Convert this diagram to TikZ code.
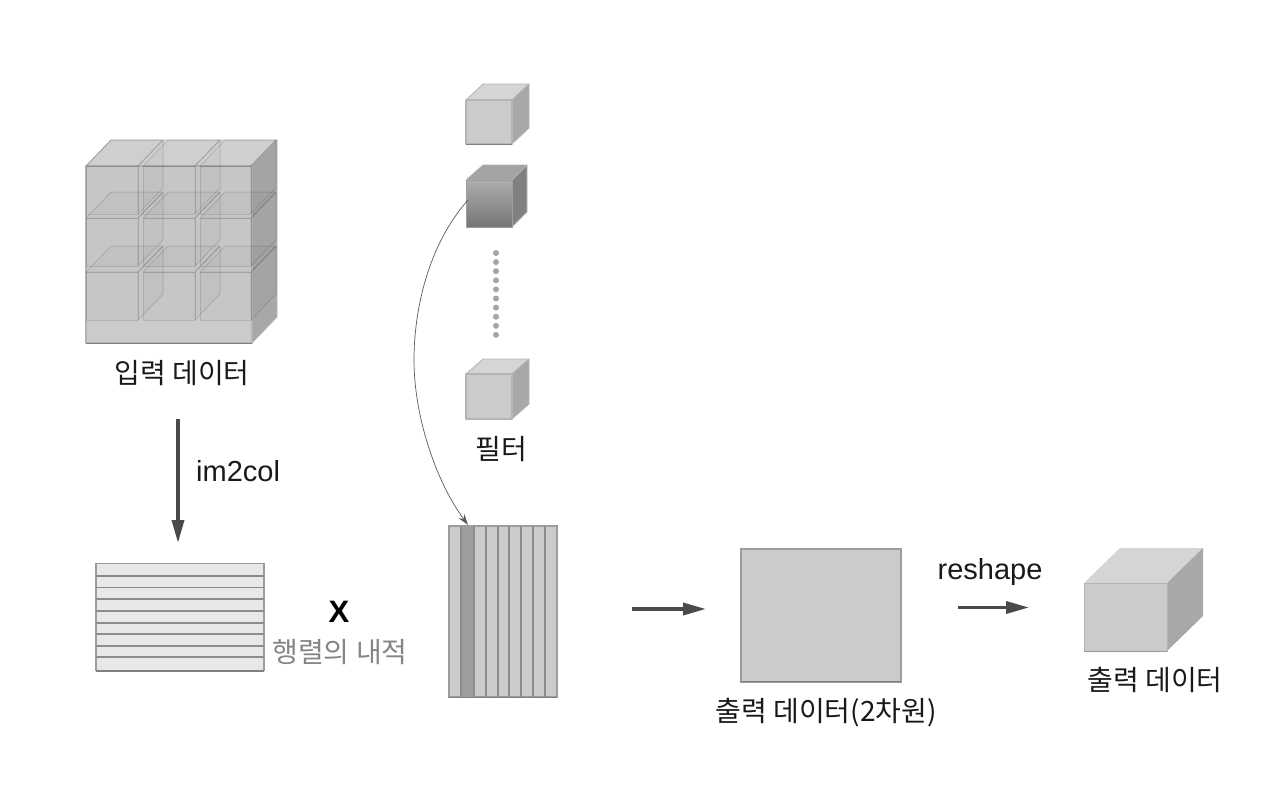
\documentclass[tikz,border=0pt]{standalone}
\usepackage{fontspec}
\setmainfont{Liberation Sans}
\newfontfamily\krfont{Noto Sans CJK KR}
\usetikzlibrary{arrows.meta,calc}
\definecolor{edgec}{HTML}{9C9C9C}
\definecolor{softedge}{HTML}{B4B4B4}
\definecolor{frontc}{HTML}{CBCBCB}
\definecolor{topc}{HTML}{D5D5D5}
\definecolor{sidec}{HTML}{A8A8A8}
\definecolor{arrowc}{HTML}{4A4A4A}
\tikzset{
  frontface/.style={fill=frontc,draw=softedge,line width=1.2pt,line join=round},
  topface/.style={fill=topc,draw=softedge,line width=.8pt,line join=round},
  sideface/.style={fill=sidec,draw=softedge,line width=.8pt,line join=round},
  glass/.style={fill=black,fill opacity=.025,draw=black,draw opacity=.11,line width=1pt,line join=round},
  flow/.style={draw=arrowc,line width=3.4pt,-{Triangle[length=23pt,width=12pt]}},
  thinflow/.style={draw=black!65,line width=.7pt,-{Stealth[length=11pt,width=7pt]}},
  lbl/.style={font=\krfont\fontsize{28}{30}\selectfont,text=black!90,inner sep=0pt},
  latin/.style={font=\fontsize{29}{32}\selectfont,text=black!90,inner sep=0pt},
  matrixbox/.style={draw=edgec,line width=1.5pt,inner sep=0pt},
  shadowline/.style={draw=black!50,line width=1.6pt},
  rule/.style={draw=black!45,line width=1.5pt},
  dotmark/.style={circle,fill=black!35,inner sep=0pt,minimum size=6pt},
}
% #1 x0, #2 y0, #3 x1, #4 y1 of the front face, #5 dx, #6 dy
\newcommand{\solidcube}[6]{%
  \draw[topface] (#1,#2) -- (#1+#5,#2-#6) -- (#3+#5,#2-#6) -- (#3,#2) -- cycle;
  \draw[sideface] (#3,#2) -- (#3+#5,#2-#6) -- (#3+#5,#4-#6) -- (#3,#4) -- cycle;
  \draw[frontface] (#1,#2) rectangle (#3,#4);
}
\newcommand{\glasscube}[4]{%
  \draw[glass] (#1,#2) -- (#1+25,#2-26) -- (#3+25,#2-26) -- (#3,#2) -- cycle;
  \draw[glass] (#3,#2) -- (#3+25,#2-26) -- (#3+25,#4-26) -- (#3,#4) -- cycle;
  \draw[glass] (#1,#2) rectangle (#3,#4);
}
\begin{document}
\begin{tikzpicture}[x=1pt,y=-1pt]
\useasboundingbox (0,0) rectangle (1280,795);
% input cube
\solidcube{86}{166}{252}{343}{25}{26}
\foreach \ya/\yb in {166/214,218/266,272/320}{
  \foreach \xa/\xb in {86/138,143/195,200/251}{
    \glasscube{\xa}{\ya}{\xb}{\yb}
  }
}
\draw[shadowline] (86,343.5) -- (252,343.5);
\node[lbl] (inputlabel) at (182,373) {입력 데이터};
% filters
\solidcube{466}{100}{512}{144}{17}{16}
\draw[shadowline] (466,144.5) -- (512,144.5);
\draw[topface,fill=black!36] (466,180) -- (483,165) -- (527,165) -- (512,180) -- cycle;
\draw[sideface,fill=black!50] (512,180) -- (527,165) -- (527,212) -- (512,227) -- cycle;
\draw[draw=black!38,line width=1pt,top color=black!32,bottom color=black!54] (466,180) rectangle (512,227);
\node[inner sep=0pt,minimum width=46pt,minimum height=47pt] (activefilter) at (489,203.5) {};
\foreach \k in {0,...,9}{ \node[dotmark] (dot\k) at (496,253+9.1*\k) {}; }
\solidcube{466}{374}{512}{419}{17}{15}
\node[lbl] (filterlabel) at (501,449) {필터};
% matrix rows
\node[matrixbox,fill=black!9,minimum width=168pt,minimum height=107pt] (rowsbox) at (180,617) {};
\foreach \yy in {576,587.7,599,611,623,634,646,657}{ \draw[rule] (96,\yy) -- (264,\yy); }
\draw[shadowline] (96,671) -- (264,671);
\node[font=\bfseries\fontsize{31}{33}\selectfont,inner sep=0pt] (timesmark) at (339,612) {X};
\node[lbl,text=black!48] (dotlabel) at (340,652) {행렬의 내적};
% matrix columns
\node[matrixbox,fill=frontc,minimum width=108pt,minimum height=171pt] (colsbox) at (503,611.5) {};
\fill[black!38] (461,526) rectangle (474,697);
\foreach \xx in {461,474,486,498,509,521,533,545}{ \draw[rule] (\xx,526) -- (\xx,697); }
\draw[shadowline] (449,697.5) -- (557,697.5);
% output 2D
\node[draw=edgec,fill=frontc,line width=1.2pt,inner sep=0pt,minimum width=160pt,minimum height=133pt] (outflat) at (821,615.5) {};
\draw[shadowline] (741,681.5) -- (901,681.5);
\node[lbl] (outflatlabel) at (826,713) {출력 데이터(2차원)};
% output cube
\fill[topc] (1084,583) -- (1120,548) -- (1203,548) -- (1167,583) -- cycle;
\fill[sidec] (1167,583) -- (1203,548) -- (1203,616) -- (1167,651) -- cycle;
\draw[draw=softedge,line width=.6pt,fill=frontc] (1084,583) rectangle (1167,651);
\draw[draw=black!40,line width=1pt] (1084,651) -- (1167,651);
\node[lbl] (outcubelabel) at (1155,680) {출력 데이터};
% arrows and labels
\coordinate (a0) at (178,419);
\coordinate (a1) at (178,543);
\draw[flow] (a0) -- (a1);
\node[latin,anchor=west] (imlabel) at (196,471) {im2col};
\coordinate (b0) at (632,609);
\coordinate (b1) at (706,609);
\draw[flow] (b0) -- (b1);
\coordinate (c0) at (958,607.5);
\coordinate (c1) at (1029,607.5);
\draw[flow] (c0) -- (c1);
\node[latin] (reshapelabel) at (990,572) {reshape};
\coordinate (curvestart) at (468,200);
\coordinate (curveend) at (468,525);
\draw[thinflow] (curvestart) .. controls (428,245) and (414,310) .. (414,360) .. controls (414,415) and (435,480) .. (curveend);
\end{tikzpicture}
\end{document}
